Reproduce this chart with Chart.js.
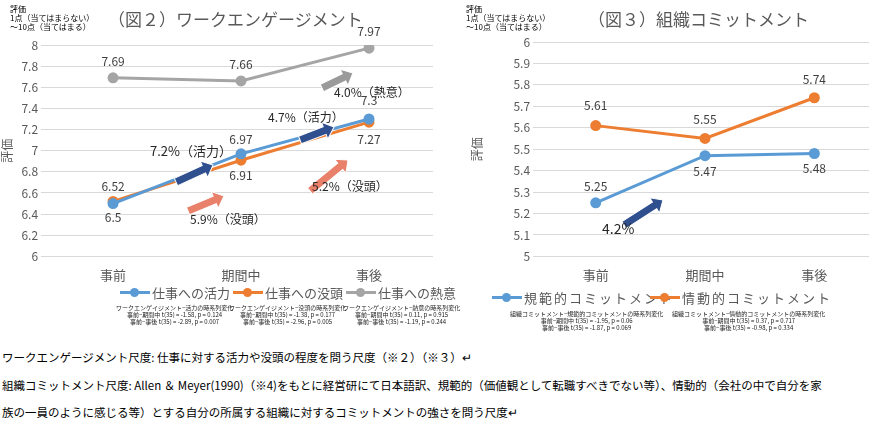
<!DOCTYPE html>
<html><head><meta charset="utf-8">
<script src="https://cdn.jsdelivr.net/npm/chart.js@4"></script>
<style>
body{margin:0;width:876px;height:433px;background:#fff;font-family:"Noto Sans CJK JP",sans-serif;position:relative;overflow:hidden}
.a{position:absolute;white-space:nowrap}
.ttl{font-size:17px;color:#595959}
.sm{font-size:8px;line-height:9px;color:#000}
.lg{font-size:13px;color:#595959;display:flex;align-items:center}
.sw{display:inline-block;width:30px;height:3px;position:relative;margin-right:2px}
.sw:after{content:"";position:absolute;left:10px;top:-3px;width:9px;height:9px;border-radius:50%;background:inherit}
.st{font-size:6px;line-height:7px;text-align:center;color:#222}
.body{font-size:11.5px;color:#000}
</style></head><body>
<canvas id="c1" class="a" style="left:0px;top:0px"></canvas>
<canvas id="c2" class="a" style="left:460px;top:0px"></canvas>
<div class="a ttl" style="left:108px;top:6px">（図２）ワークエンゲージメント</div>
<div class="a ttl" style="left:588px;top:6px">（図３）組織コミットメント</div>
<div class="a sm" style="left:10px;top:4px">評価<br>1点（当てはまらない）<br>～10点（当てはまる）</div>
<div class="a sm" style="left:466px;top:4px">評価<br>1点（当てはまらない）<br>～10点（当てはまる）</div>
<div class="a lg" style="left:120px;top:283px"><span class="sw" style="background:#5b9bd5"></span>仕事への活力</div>
<div class="a lg" style="left:233px;top:283px"><span class="sw" style="background:#ed7d31"></span>仕事への没頭</div>
<div class="a lg" style="left:346px;top:283px"><span class="sw" style="background:#a5a5a5"></span>仕事への熱意</div>
<div class="a lg" style="left:492px;top:288px;letter-spacing:2px"><span class="sw" style="background:#5b9bd5"></span>規範的コミットメント</div>
<div class="a lg" style="left:650px;top:288px;letter-spacing:2px"><span class="sw" style="background:#ed7d31"></span>情動的コミットメント</div>
<div class="a st" style="left:116px;top:304px">ワークエンゲイジメント−活力の時系列変化<br>事前−期間中 t(35) = -1.58, p = 0.124<br>事前−事後 t(35) = -2.89, p = 0.007</div>
<div class="a st" style="left:229px;top:304px">ワークエンゲイジメント−没頭の時系列変化<br>事前−期間中 t(35) = -1.38, p = 0.177<br>事前−事後 t(35) = -2.96, p = 0.005</div>
<div class="a st" style="left:343px;top:304px">ワークエンゲイジメント−熱意の時系列変化<br>事前−期間中 t(35) = 0.11, p = 0.915<br>事前−事後 t(35) = -1.19, p = 0.244</div>
<div class="a st" style="left:510px;top:310px">組織コミットメント−規範的コミットメントの時系列変化<br>事前−期間中 t(35) = -1.95, p = 0.06<br>事前−事後 t(35) = -1.87, p = 0.069</div>
<div class="a st" style="left:672px;top:310px">組織コミットメント−情動的コミットメントの時系列変化<br>事前−期間中 t(35) = 0.37, p = 0.717<br>事前−事後 t(35) = -0.98, p = 0.334</div>
<div class="a body" style="left:2px;top:349px">ワークエンゲージメント尺度: 仕事に対する活力や没頭の程度を問う尺度（※２）（※３）↵</div>
<div class="a body" style="left:2px;top:377px">組織コミットメント尺度: Allen ＆ Meyer(1990)（※4)をもとに経営研にて日本語訳、規範的（価値観として転職すべきでない等）、情動的（会社の中で自分を家</div>
<div class="a body" style="left:2px;top:404px">族の一員のように感じる等）とする自分の所属する組織に対するコミットメントの強さを問う尺度↵</div>
<script>
const periods = ['事前', '期間中', '事後'];
const vigor = [6.5, 6.97, 7.3];
const absorption = [6.52, 6.91, 7.27];
const dedication = [7.69, 7.66, 7.97];
const normative = [5.25, 5.47, 5.48];
const affective = [5.61, 5.55, 5.74];

const BLUE = '#5b9bd5', ORANGE = '#ed7d31', GRAY = '#a5a5a5', TICK = '#595959';
const F = '"Noto Sans CJK JP", sans-serif';

function arrow(ctx, x1, y1, x2, y2, color) {
  const a = Math.atan2(y2 - y1, x2 - x1), L = Math.hypot(x2 - x1, y2 - y1);
  ctx.save(); ctx.translate(x1, y1); ctx.rotate(a);
  ctx.beginPath();
  ctx.moveTo(0, -4); ctx.lineTo(L - 10, -4); ctx.lineTo(L - 10, -9); ctx.lineTo(L, 0);
  ctx.lineTo(L - 10, 9); ctx.lineTo(L - 10, 4); ctx.lineTo(0, 4); ctx.closePath();
  ctx.fillStyle = color; ctx.fill(); ctx.strokeStyle = '#ffffff'; ctx.lineWidth = 1; ctx.stroke();
  ctx.restore();
}

// value labels + decorative arrows
const labelsPlugin = {
  id: 'labels',
  afterDatasetsDraw(chart, args, opts) {
    const ctx = chart.ctx;
    ctx.save();
    ctx.font = '12px ' + F; ctx.fillStyle = '#404040'; ctx.textAlign = 'center';
    chart.data.datasets.forEach((ds, i) => {
      chart.getDatasetMeta(i).data.forEach((pt, j) => {
        const off = opts.offsets[i][j];
        ctx.fillText(String(ds.data[j]), pt.x + off[0], pt.y + off[1]);
      });
    });
    (opts.arrows || []).forEach((a) => arrow(ctx, a[0], a[1], a[2], a[3], a[4]));
    ctx.textAlign = 'left';
    (opts.notes || []).forEach((n) => { ctx.font = n[3] + 'px ' + F; ctx.fillStyle = '#262626'; ctx.fillText(n[0], n[1], n[2]); });
    ctx.restore();
  },
};

function make(id, w, datasets, yMin, yMax, step, pad, titlePad, plug) {
  const c = document.getElementById(id);
  c.width = w; c.height = 290; c.style.width = w + 'px'; c.style.height = '290px';
  return new Chart(c, {
    type: 'line',
    data: { labels: periods, datasets },
    options: {
      responsive: false, animation: false,
      layout: { padding: pad },
      plugins: { legend: { display: false }, tooltip: { enabled: false }, labels: plug },
      scales: {
        x: { offset: true, grid: { display: false }, border: { display: false }, ticks: { color: TICK, font: { size: 13, family: F } } },
        y: { min: yMin, max: yMax, ticks: { stepSize: step, color: TICK, font: { size: 12, family: F }, callback: (v) => +v.toFixed(2) },
             grid: { color: '#d9d9d9' }, border: { display: false },
             title: { display: true, text: '評価', color: TICK, font: { size: 12, family: F }, padding: { top: 0, bottom: titlePad } } },
      },
    },
    plugins: [labelsPlugin],
  });
}

const ds = (data, color) => ({ data, borderColor: color, backgroundColor: color, borderWidth: 3, pointRadius: 4, tension: 0 });

make('c1', 440, [ds(vigor, BLUE), ds(absorption, ORANGE), ds(dedication, GRAY)], 6, 8, 0.2,
  { top: 45, left: 0, right: 0, bottom: 4 }, 4,
  {
    offsets: [[[0, 18], [0, -10], [0, -14]], [[0, -10], [0, 20], [0, 22]], [[0, -12], [0, -12], [0, -12]]],
    arrows: [[176, 182, 213, 165, '#2f4f8f'], [188, 211, 224, 196, '#e9806a'], [300, 140, 334, 127, '#2f4f8f'],
             [310, 191, 348, 160, '#e9806a'], [322, 88, 353, 73, '#9a9a9a']],
    notes: [['7.2%（活力）', 150, 156, 13], ['5.9%（没頭）', 190, 224, 12], ['4.7%（活力）', 268, 122, 12],
            ['5.2%（没頭）', 312, 191, 12], ['4.0%（熱意）', 334, 97, 12]],
  });
make('c2', 416, [ds(normative, BLUE), ds(affective, ORANGE)], 5, 6, 0.1,
  { top: 42, left: 10, right: 0, bottom: 4 }, 26,
  {
    offsets: [[[0, -12], [0, 20], [0, 20]], [[0, -16], [0, -14], [0, -14]]],
    arrows: [[164, 225, 203, 200, '#2f4f8f']],
    notes: [['4.2%', 142, 234, 14]],
  });
</script>
</body></html>
